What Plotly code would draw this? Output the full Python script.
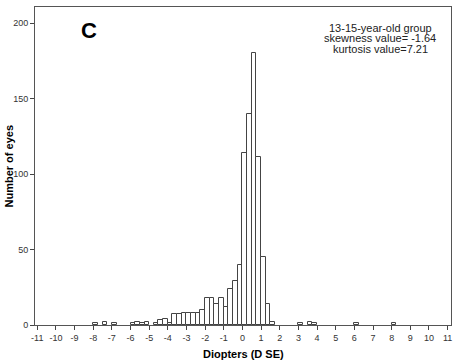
import plotly.graph_objects as go

# Histogram bins (left edges, width 0.25 D) and counts
bin_starts = [-8.0, -7.5, -7.0, -6.0, -5.75, -5.5, -5.25, -4.75, -4.5, -4.25,
              -4.0, -3.75, -3.5, -3.25, -3.0, -2.75, -2.5, -2.25, -2.0, -1.75,
              -1.5, -1.25, -1.0, -0.75, -0.5, -0.25, 0.0, 0.25, 0.5, 0.75,
              1.0, 1.25, 1.5, 3.0, 3.5, 3.75, 6.0, 8.0]
counts = [1, 2, 1, 1, 2, 1, 2, 1, 3, 4,
          1, 7, 7, 8, 8, 8, 8, 10, 18, 18,
          14, 18, 12, 24, 29, 40, 114, 140, 180, 111,
          45, 14, 2, 1, 2, 1, 1, 1]
bin_width = 0.25

x_ticks = list(range(-11, 12))
y_ticks = [0, 50, 100, 150, 200]

panel_label = "C"
stats_lines = ["13-15-year-old group", "skewness value= -1.64", "kurtosis value=7.21"]
x_title = "Diopters (D SE)"
y_title = "Number of eyes"

centers = [b + bin_width / 2 for b in bin_starts]

fig = go.Figure()
fig.add_trace(go.Bar(
    x=centers, y=counts, width=bin_width,
    marker=dict(color="white", line=dict(color="#444444", width=1)),
    showlegend=False,
))

font_family = "Liberation Sans, Arial, sans-serif"

fig.update_layout(
    width=454, height=364,
    margin=dict(l=35, r=3, t=7, b=39, autoexpand=False),
    paper_bgcolor="white", plot_bgcolor="white",
    font=dict(family=font_family, color="#333333"),
    bargap=0,
)
fig.update_xaxes(
    range=[-11.12, 11.18], tickvals=x_ticks, ticktext=[str(t) for t in x_ticks],
    showgrid=False, zeroline=False, automargin=False,
    showline=True, linecolor="#555555", linewidth=1, mirror=True,
    ticks="outside", ticklen=4, tickcolor="#444444", tickwidth=1,
    tickfont=dict(size=9, color="#333333"),
)
fig.update_yaxes(
    range=[0, 210.6], tickvals=y_ticks,
    showgrid=False, zeroline=False, automargin=False,
    showline=True, linecolor="#555555", linewidth=1, mirror=True,
    ticks="outside", ticklen=4, tickcolor="#444444", tickwidth=1,
    tickfont=dict(size=9, color="#333333"),
)

annotations = [
    dict(x=-8.25, y=195, xref="x", yref="y", text="<b>%s</b>" % panel_label,
         showarrow=False, font=dict(size=22, color="black")),
    dict(x=0.5, y=-0.092, xref="paper", yref="paper", yanchor="middle",
         xanchor="center",
         text="<b>%s</b>" % x_title, showarrow=False,
         font=dict(size=11, color="black")),
    dict(x=0, xshift=-26.5, y=0.5, xref="paper", yref="paper", textangle=-90,
         xanchor="center", yanchor="middle",
         text="<b>%s</b>" % y_title, showarrow=False,
         font=dict(size=11, color="black")),
]
for i, line in enumerate(stats_lines):
    annotations.append(dict(
        x=7.39, y=197 - i * 7.1, xref="x", yref="y", text=line,
        showarrow=False, font=dict(size=11, color="#222222")))
fig.update_layout(annotations=annotations)

fig.write_html(
    "out.html",
    config={"displayModeBar": False},
    post_script="document.body.style.margin='0';document.body.style.overflow='hidden';",
)
